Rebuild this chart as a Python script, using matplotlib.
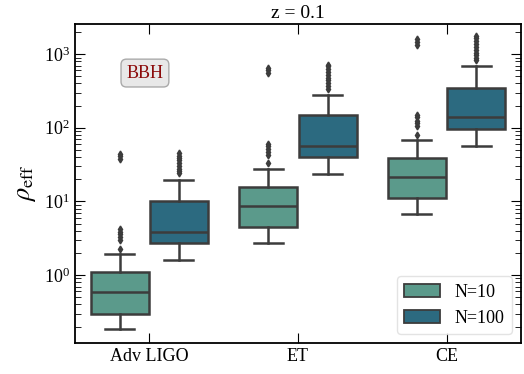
import numpy as np
import matplotlib
matplotlib.use("Agg")
import matplotlib.pyplot as plt
from matplotlib.patches import Patch

plt.rcParams['font.family'] = ['Liberation Serif', 'DejaVu Serif']
plt.rcParams['mathtext.fontset'] = 'stix'

cats = ['Adv LIGO', 'ET', 'CE']
labels = ['N=10', 'N=100']
colors = ['#5b9a8b', '#2c6a80']

# box summaries
n10_lo = [0.185, 2.69, 6.66]
n10_q1 = [0.30, 4.44, 11.0]
n10_med = [0.59, 8.7, 21.6]
n10_q3 = [1.09, 15.8, 39.0]
n10_hi = [1.93, 28.0, 68.5]
n10_fliers = [[2.27, 2.98, 3.3, 3.6, 3.9, 4.17, 38, 41, 44],
              [33.4, 42.5, 47, 52, 56, 61, 560, 600, 650],
              [81, 105, 115, 125, 138, 151, 1350, 1450, 1600]]

n100_lo = [1.6, 23.7, 57.5]
n100_q1 = [2.74, 40.0, 97.0]
n100_med = [3.8, 56.0, 138.0]
n100_q3 = [10.1, 148.0, 352.0]
n100_hi = [19.5, 283.0, 690.0]
n100_fliers = [[24.2, 26, 28, 30, 33, 36, 39, 42, 45],
               [341, 370, 400, 440, 480, 520, 570, 620, 680, 706],
               [826, 900, 980, 1050, 1150, 1250, 1380, 1500, 1650, 1750]]


def stats(lo, q1, med, q3, hi, fl):
    return [dict(whislo=a, q1=b, med=c, q3=d, whishi=e, fliers=f)
            for a, b, c, d, e, f in zip(lo, q1, med, q3, hi, fl)]


groups = [stats(n10_lo, n10_q1, n10_med, n10_q3, n10_hi, n10_fliers),
          stats(n100_lo, n100_q1, n100_med, n100_q3, n100_hi, n100_fliers)]

fig = plt.figure(figsize=(5.24, 3.74), dpi=100)
ax = fig.add_axes([0.143, 0.083, 0.851, 0.853])

ec = '#3c3c3c'
lw = 1.8
x = np.arange(len(cats))
for k, (st, col) in enumerate(zip(groups, colors)):
    pos = x + (k - 0.5) * 0.4
    ax.bxp(st, positions=pos, widths=0.39, capwidths=0.195, patch_artist=True,
           manage_ticks=False,
           boxprops=dict(facecolor=col, edgecolor=ec, linewidth=lw),
           medianprops=dict(color=ec, linewidth=lw),
           whiskerprops=dict(color=ec, linewidth=lw),
           capprops=dict(color=ec, linewidth=lw),
           flierprops=dict(marker='d', markersize=3.5, markerfacecolor=ec,
                           markeredgecolor=ec, linestyle='none'))

ax.set_yscale('log')
ax.set_ylim(0.12, 2570)
ax.set_xlim(-0.5, 2.5)
ax.set_xticks(x)
ax.set_xticklabels(cats, fontsize=13)
ax.tick_params(axis='y', which='both', direction='in', right=True, labelsize=13)
ax.tick_params(axis='y', which='major', length=7)
ax.tick_params(axis='y', which='minor', length=4)
ax.tick_params(axis='x', direction='in', top=True, length=7)
for s in ax.spines.values():
    s.set_linewidth(1.3)

ax.set_ylabel(r'$\rho_{\rm eff}$', fontsize=19)
ax.set_title('z = 0.1', fontsize=14, pad=4)

ax.text(0.157, 0.846, 'BBH', transform=ax.transAxes, fontsize=13,
        color='#8b0a0a', ha='center', va='center',
        bbox=dict(boxstyle='round,pad=0.3', facecolor='#e8e8e8',
                  edgecolor='#aaaaaa'))

handles = [Patch(facecolor=c, edgecolor=ec, linewidth=1.3, label=l)
           for c, l in zip(colors, labels)]
ax.legend(handles=handles, loc='lower right', fontsize=13, fancybox=True,
          framealpha=0.8, edgecolor='#dddddd')

fig.savefig('out.png', dpi=100)
